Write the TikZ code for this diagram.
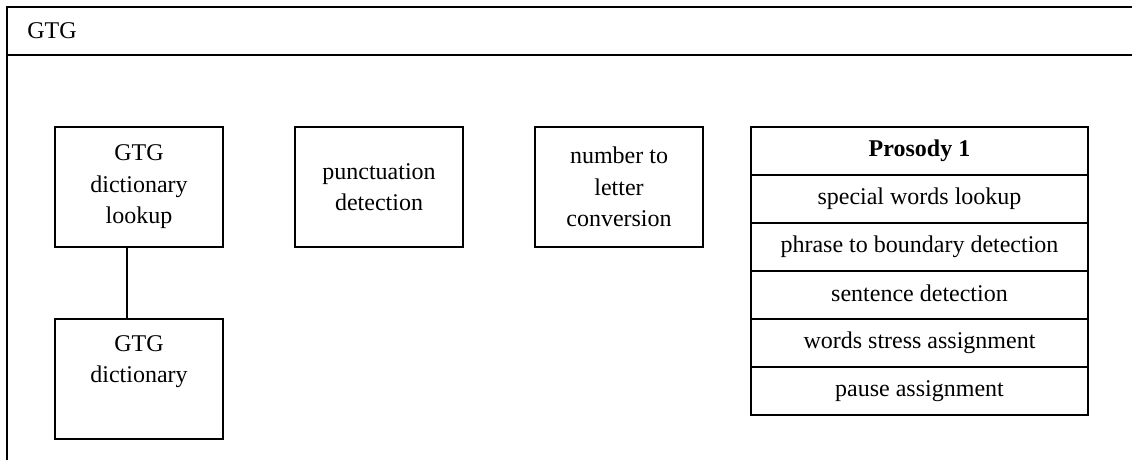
\documentclass[tikz,border=0pt]{standalone}
\usepackage{fontspec}
\setmainfont{Liberation Serif}
\begin{document}
\begin{tikzpicture}[x=0.5pt,y=-0.5pt,
  frameline/.style={line width=1pt},
  box/.style={draw,line width=1pt,rectangle,minimum width=84pt,minimum height=60pt,inner sep=0pt,align=center,font=\fontsize{12}{15.75}\selectfont},
  txt/.style={align=center,inner sep=0pt,font=\fontsize{12}{15.75}\selectfont},
  prow/.style={draw,line width=1pt,rectangle,minimum width=168.5pt,minimum height=24pt,inner sep=0pt,text height=8.5pt,text depth=2.5pt,font=\fontsize{12}{14}\selectfont}]
\useasboundingbox (0,0) rectangle (1132,460);
% outer frame
\coordinate (fl) at (7,460);
\coordinate (ftl) at (7,7);
\coordinate (ftr) at (1132,7);
\coordinate (fhl) at (7,55);
\coordinate (fhr) at (1132,55);
\draw[frameline] (fl) -- (ftl) -- (ftr);
\draw[frameline] (fhl) -- (fhr);
\node[txt,anchor=west] (title) at (27,31) {GTG};
% boxes
\node[box] (g1) at (139,187) {GTG\\dictionary\\lookup};
\node[box] (g2) at (139,379) {};
\node[txt,anchor=north] (g2t) at (139,335) {GTG\\dictionary};
\node[box] (punc) at (379,187) {punctuation\\detection};
\node[box] (num) at (619,187) {number to\\letter\\conversion};
\coordinate (cx) at (127,0);
\draw[line width=1pt] (g1.south -| cx) -- (g2.north -| cx);
% prosody
\node[prow] (p0) at (919.5,151) {\textbf{Prosody 1}};
\node[prow] (p1) at (919.5,199) {special words lookup};
\node[prow] (p2) at (919.5,247) {phrase to boundary detection};
\node[prow] (p3) at (919.5,295) {sentence detection};
\node[prow] (p4) at (919.5,343) {words stress assignment};
\node[prow] (p5) at (919.5,391) {pause assignment};
\end{tikzpicture}
\end{document}
